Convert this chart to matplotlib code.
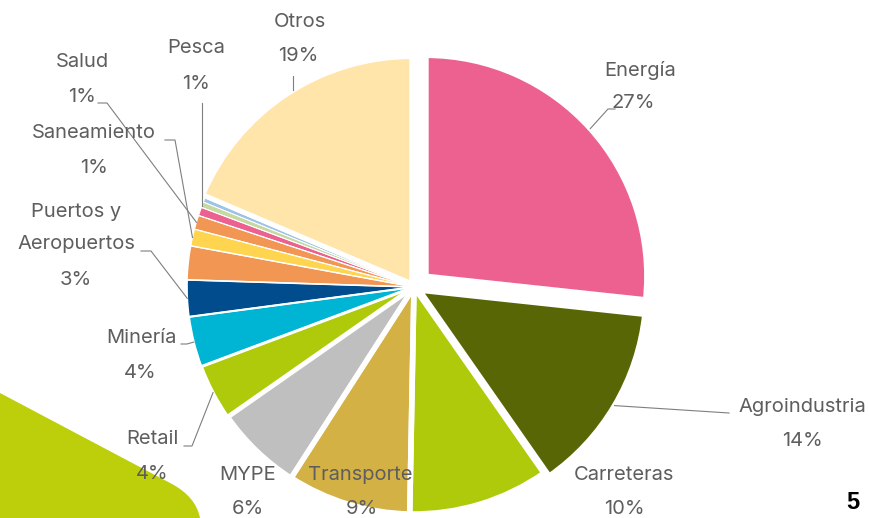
import numpy as np
import matplotlib.pyplot as plt
from matplotlib.patches import Wedge, PathPatch
from matplotlib.path import Path

# ---------------------------
# Daten
# ---------------------------
sectores = ['Energía', 'Agroindustria', 'Carreteras', 'Transporte', 'MYPE',
            'Retail', 'Minería', 'Puertos y\nAeropuertos', '', 'Saneamiento',
            'Salud', 'Pesca', '', '', 'Otros']
valores = [26.7, 13.6, 10.0, 8.8, 6.2, 4.0, 3.6, 2.6, 2.4, 1.2, 1.0, 0.6,
           0.4, 0.3, 18.6]
colores = ['#EC618F', '#596605', '#AFCA0B', '#D4B144', '#BFBFBF', '#AFCA0B',
           '#00B4D4', '#004C8C', '#F29654', '#FFD54F', '#F29654', '#EC618F',
           '#C6D9A0', '#9DC3E6', '#FFE5AA']

# ---------------------------
# Layout (Pixel, y nach unten)
# ---------------------------
W, H = 870, 518
def P(x, y):
    return (x, H - y)

cx, cy = 414, 287
radio = 227
# explode in Datenkoordinaten (= Pixel)
explode = [16, 6, 0, 0, 0, 0, 0, 0, 0, 0, 0, 0, 0, 0, 4]
bordes = [4.0, 4.0, 4.0, 4.0, 3.5, 2.2, 1.5, 1.2, 1.0, 0.8, 0.8, 0.8,
          0.6, 0.6, 3.5]

# Position Name, Position Prozent, Leader-Punkte (Start, Knick) oder None
etiquetas = {
    'Energía': ((640, 70), (633, 103), [(615, 109), (608, 109)]),
    'Agroindustria': ((802, 407), (802, 441), [(729, 413)]),
    'Carreteras': ((624, 475), (624, 509), None),
    'Transporte': ((360, 475), (362, 509), None),
    'MYPE': ((248, 475), (248, 509), None),
    'Retail': ((152, 439), (152, 474), [(184, 446), (192, 446)]),
    'Minería': ((141, 338), (140, 373), [(181, 344), (187, 344)]),
    'Puertos y\nAeropuertos': ((76, 228), (76, 280), [(141, 251), (151, 251)]),
    'Saneamiento': ((94, 133), (94, 168), [(165, 140), (175, 140)]),
    'Salud': ((82, 62), (82, 97), [(98, 103), (107, 103)]),
    'Pesca': ((196, 48), (196, 84), [(202, 103)]),
    'Otros': ((300, 22), (298, 56), [(293, 76)]),
}

plt.rcParams['font.family'] = ['Inter', 'DejaVu Sans']
fig = plt.figure(figsize=(W / 100, H / 100), dpi=100)
ax = fig.add_axes([0, 0, 1, 1])

# Dekoration unten links
verts = [P(0, 393), P(172, 484), P(196, 497), P(200, 518), P(0, 518), P(0, 393)]
codes = [Path.MOVETO, Path.LINETO, Path.CURVE3, Path.CURVE3, Path.LINETO, Path.CLOSEPOLY]
ax.add_patch(PathPatch(Path(verts, codes), facecolor='#BCCF0A', edgecolor='none', zorder=0))

# Kreisdiagramm
wedges, _ = ax.pie(valores, colors=colores, startangle=90, counterclock=False,
                   center=P(cx, cy), radius=radio, explode=explode,
                   wedgeprops=dict(linewidth=0), frame=True)
wedges[0].set_radius(221)
for w, lw in zip(wedges, bordes):
    w.set_zorder(1)
    ax.add_patch(Wedge(w.center, w.r, w.theta1, w.theta2, facecolor='none',
                       edgecolor='white', linewidth=lw, zorder=2))

# Beschriftungen
gris = '#5E5E5E'
total = sum(valores)
for w, nombre, v in zip(wedges, sectores, valores):
    if not nombre:
        continue
    pos_n, pos_p, leader = etiquetas[nombre]
    ax.text(*P(*pos_n), nombre, ha='center', va='center', fontsize=14.5,
            color=gris, linespacing=1.95, zorder=5)
    ax.text(*P(*pos_p), f'{v / total * 100:.0f}%', ha='center', va='center',
            fontsize=14.5, color=gris, zorder=5)
    if leader:
        pts = [P(*p) for p in leader]
        if len(leader) == 1 and nombre != 'Agroindustria':
            # senkrechte Linie bis zum Kreisrand
            x0 = pts[0][0]
            ey = w.center[1] + np.sqrt(w.r**2 - (x0 - w.center[0])**2)
            pts.append((x0, ey))
        else:
            ang = np.deg2rad((w.theta1 + w.theta2) / 2)
            pts.append((w.center[0] + w.r * np.cos(ang),
                        w.center[1] + w.r * np.sin(ang)))
        xs, ys = zip(*pts)
        ax.plot(xs, ys, color='#7F7F7F', linewidth=0.8, zorder=4)

ax.text(*P(853, 503), '5', ha='center', va='center', fontsize=17,
        fontweight='bold', color='black', family='Liberation Sans', zorder=5)

ax.set_xlim(0, W)
ax.set_ylim(0, H)
ax.set_aspect('equal')
ax.axis('off')

fig.savefig('out.png', dpi=100)
